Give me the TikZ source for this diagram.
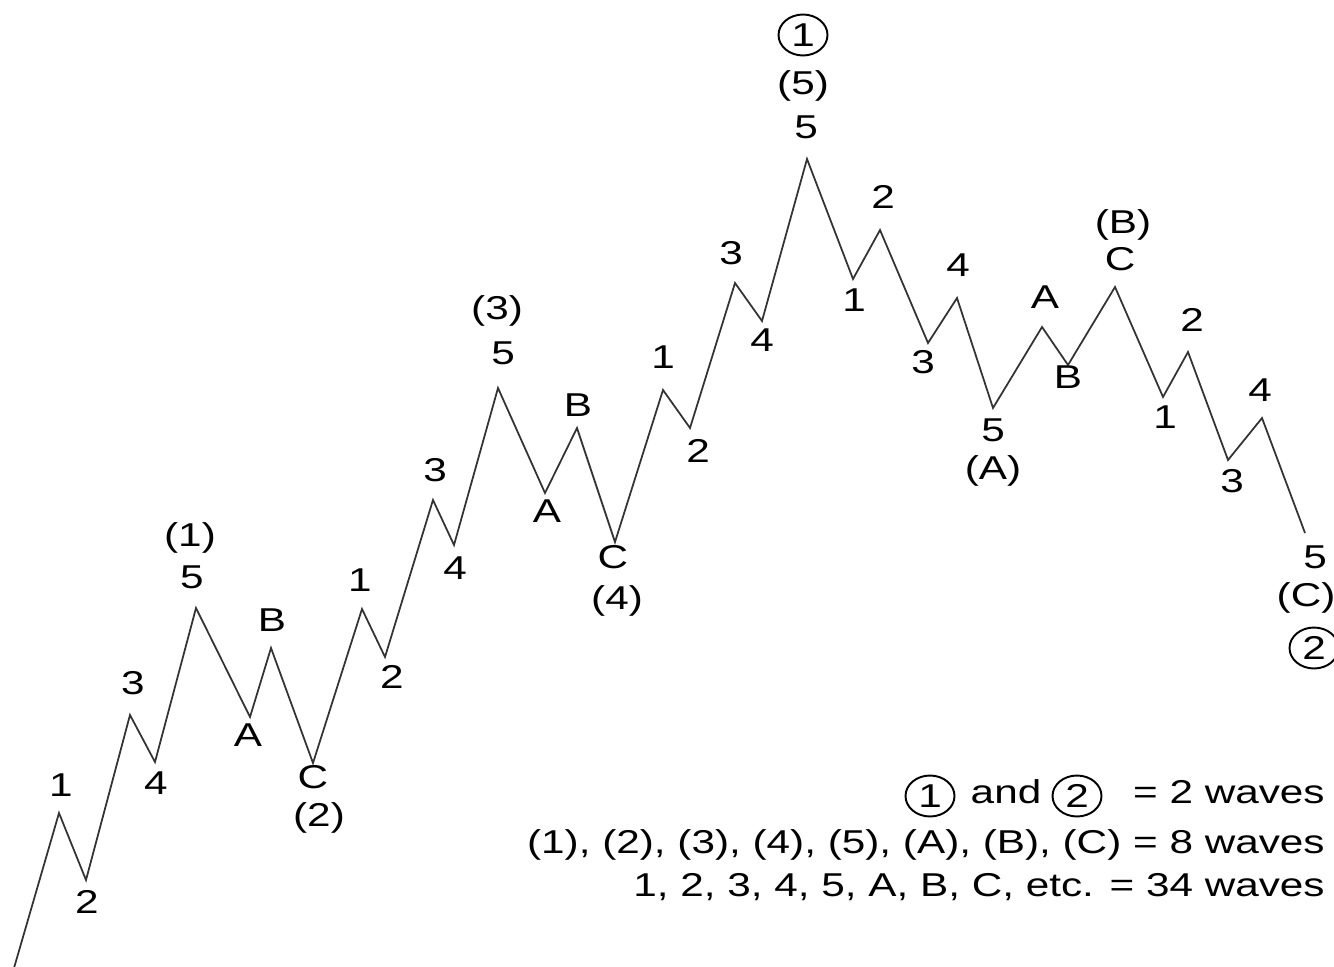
\documentclass[tikz,border=0pt]{standalone}
\usepackage{fontspec}
\setmainfont{Liberation Sans}[FakeStretch=1.28]
\usepackage{tikz}
\usetikzlibrary{shapes.geometric}

\begin{document}
\begin{tikzpicture}[x=0.02cm,y=-0.02cm,font=\fontsize{18.8}{22}\selectfont,
  wave/.style={black!80,line width=1pt,line join=miter},
  lbl/.style={inner sep=0pt,text height=0.72em,text depth=0pt},
  circ/.style={ellipse,draw,line width=1.1pt,minimum width=0.98cm,
    minimum height=0.82cm,inner sep=0pt}]
\useasboundingbox (0,0) rectangle (1334,966);
\foreach \x/\y [count=\i from 0] in {14/968,59/813,86/880,130/715,155/762,196/608,
  250/717,271/648,313/763,362/609,385/657,433/500,454/545,498/388,545/493,
  577/428,615/542,663/390,690/428,735/283,762/321,807/159,853/279,880/230,
  928/343,957/298,993/408,1042/327,1068/365,1115/287,1163/397,1188/352,
  1228/460,1262/418,1305/533}
  \coordinate (p\i) at (\x,\y);
\draw[wave] (p0) \foreach \i in {1,...,34} { -- (p\i) };

\foreach \t/\x/\y [count=\i] in {1/61/790,2/87/907,3/133/688,4/156/788,
  5/192/582,(1)/190/540,A/248/740,B/272/625,C/313/782,(2)/319/820,
  1/360/585,2/392/682,3/435/475,4/455/573,5/503/358,(3)/497/313,
  A/547/516,B/578/410,C/613/562,(4)/617/603,1/663/362,2/698/456,
  3/731/258,4/762/345,5/806/132,(5)/803/88,1/854/305,2/883/202,
  3/923/367,4/958/270,5/993/435,(A)/993/473,A/1045/302,B/1068/382,
  C/1120/264,(B)/1123/227,1/1165/422,2/1192/325,3/1232/486,4/1260/395,
  5/1315/562,(C)/1306/600}
  \node[lbl] (l\i) at (\x,\y) {\t};
\node[circ] (top) at (803,35) {1};
\node[circ] (end) at (1314,648) {2};

\node[circ] (key1) at (930,796) {1};
\node[lbl] (keyand) at (1006,797) {and};
\node[circ] (key2) at (1077,796) {2};
\node[lbl,anchor=east] (keya) at (1325,797) {= 2 waves};
\node[lbl,anchor=east] (keyb) at (1325,847) {(1), (2), (3), (4), (5), (A), (B), (C) = 8 waves};
\node[lbl,anchor=east] (keyc) at (1325,890) {1, 2, 3, 4, 5, A, B, C, etc. = 34 waves};
\end{tikzpicture}
\end{document}
